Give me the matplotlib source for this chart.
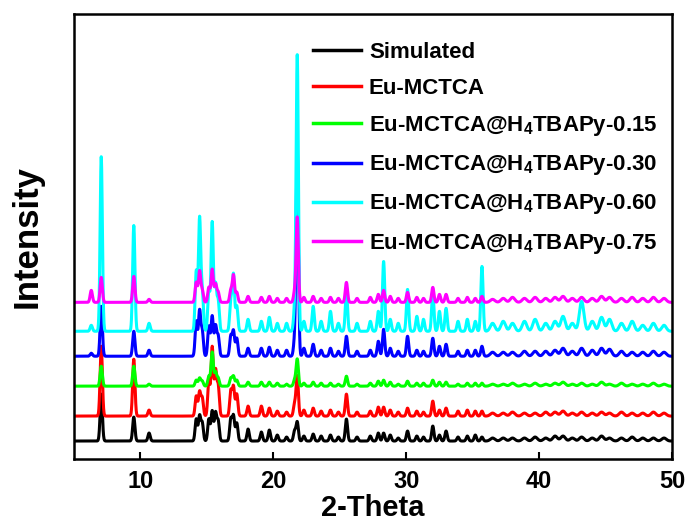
import numpy as np
import matplotlib
matplotlib.use('Agg')
import matplotlib.pyplot as plt

plt.rcParams['font.family'] = ['Liberation Sans', 'DejaVu Sans']
plt.rcParams['font.weight'] = 'bold'
plt.rcParams['mathtext.fontset'] = 'custom'
plt.rcParams['mathtext.bf'] = 'Liberation Sans:bold'
plt.rcParams['mathtext.rm'] = 'Liberation Sans:bold'

# peak positions (2-theta) shared by all patterns
positions = [6.3, 7.05, 9.5, 10.65, 14.2, 14.45, 14.65, 15.15, 15.4, 15.65, 15.85,
             16.8, 17.0, 17.25, 18.1, 19.1, 19.7, 20.3, 21.0, 21.6, 21.8, 22.3,
             23.0, 23.6, 24.3, 24.9, 25.5, 26.3, 27.3, 27.9, 28.3, 28.8, 29.4,
             30.1, 30.8, 31.3, 32.0, 32.5, 33.0, 33.9, 34.6, 35.2, 35.7, 36.5,
             37.3, 38.0, 38.9, 39.7, 40.5, 41.2, 41.8, 42.5, 43.2, 44.0, 44.7,
             45.3, 46.2, 47.0, 47.8, 48.6, 49.4]

# peak heights above baseline (arbitrary units) for each pattern
simulated = [0, 47, 24, 8, 22, 25, 18, 22, 30, 28, 20,
             22, 25, 18, 12, 9, 11, 6, 4, 10, 19, 5,
             7, 5, 6, 4, 22, 4, 5, 8, 8, 6, 3,
             10, 5, 4, 15, 6, 10, 4, 5, 6, 4, 3,
             3, 3, 3, 4, 3, 5, 5, 3, 4, 3, 5,
             3, 3, 4, 3, 3, 3]
eu_mctca = [0, 70, 57, 6, 20, 24, 18, 35, 69, 45, 30,
            25, 29, 22, 10, 10, 8, 5, 4, 12, 40, 6,
            8, 5, 6, 4, 22, 4, 5, 9, 9, 6, 4,
            8, 5, 4, 15, 6, 8, 5, 6, 5, 5, 3,
            3, 4, 3, 3, 4, 4, 5, 3, 4, 3, 4,
            3, 4, 3, 3, 4, 3]
tbapy_015 = [0, 20, 20, 2, 6, 8, 5, 10, 34, 14, 8,
             8, 10, 6, 4, 4, 4, 3, 2, 6, 27, 3,
             4, 3, 3, 2, 10, 2, 3, 5, 6, 4, 2,
             5, 3, 3, 6, 4, 4, 2, 3, 3, 3, 2,
             2, 3, 2, 3, 2, 3, 4, 2, 3, 2, 4,
             2, 3, 2, 2, 3, 2]
tbapy_030 = [3, 50, 25, 6, 35, 45, 25, 30, 40, 30, 20,
             20, 25, 18, 8, 8, 9, 6, 6, 15, 207, 8,
             12, 6, 8, 5, 20, 5, 6, 15, 27, 8, 5,
             20, 6, 5, 18, 10, 12, 5, 6, 6, 10, 4,
             4, 4, 5, 5, 5, 6, 8, 5, 8, 6, 8,
             7, 5, 4, 4, 5, 4]
tbapy_060 = [6, 175, 106, 8, 60, 112, 40, 40, 109, 46, 30,
             30, 56, 25, 12, 10, 14, 8, 8, 20, 276, 10,
             25, 10, 20, 8, 40, 8, 10, 20, 70, 12, 8,
             42, 15, 12, 40, 20, 23, 10, 12, 10, 65, 8,
             10, 8, 10, 12, 8, 10, 15, 8, 30, 10, 14,
             12, 8, 10, 6, 8, 6]
tbapy_075 = [12, 25, 26, 3, 20, 31, 12, 15, 33, 18, 10,
             12, 27, 10, 6, 5, 6, 4, 4, 10, 85, 5,
             6, 4, 5, 4, 20, 4, 5, 8, 12, 6, 4,
             10, 5, 4, 15, 8, 8, 4, 5, 4, 6, 3,
             4, 5, 4, 5, 4, 5, 6, 4, 5, 4, 6,
             5, 4, 5, 4, 5, 4]

# vertical offsets of each pattern
offsets = [18, 43, 73, 103, 128, 157]

labels = ['Simulated', 'Eu-MCTCA',
          r'Eu-MCTCA@H$_\mathbf{4}$TBAPy-0.15',
          r'Eu-MCTCA@H$_\mathbf{4}$TBAPy-0.30',
          r'Eu-MCTCA@H$_\mathbf{4}$TBAPy-0.60',
          r'Eu-MCTCA@H$_\mathbf{4}$TBAPy-0.75']
colors = ['black', '#ff0000', '#00ff00', '#0000ff', '#00ffff', '#ff00ff']

series = [simulated, eu_mctca, tbapy_015, tbapy_030, tbapy_060, tbapy_075]

two_theta = np.linspace(5, 50, 4000)
pos = np.array(positions)


def pattern(heights, base):
    h = np.array(heights, dtype=float)
    sig = np.where(pos < 36, 0.085, 0.17)
    prof = (h[:, None] * np.exp(-0.5 * ((two_theta[None, :] - pos[:, None]) / sig[:, None]) ** 2)).sum(axis=0)
    return base + prof


fig = plt.figure(figsize=(6.89, 5.26), dpi=100)
ax = fig.add_axes([0.1074, 0.1274, 0.8679, 0.846])

for heights, base, col, lab in zip(series, offsets, colors, labels):
    ax.plot(two_theta, pattern(heights, base), color=col, lw=2.2, label=lab)

ax.set_xlim(5, 50)
ax.set_ylim(0, 446)
ax.set_xticks([10, 20, 30, 40, 50])
ax.set_yticks([])
ax.tick_params(axis='x', direction='in', length=5, width=1.5, pad=8, labelsize=17)
for sp in ax.spines.values():
    sp.set_linewidth(1.8)

ax.set_xlabel('2-Theta', fontsize=21, fontweight='bold', labelpad=1)
ax.set_ylabel('Intensity', fontsize=25, fontweight='bold', labelpad=22)

leg = ax.legend(loc='upper left', bbox_to_anchor=(0.40, 0.937), frameon=False,
                fontsize=16, handlelength=2.15, handletextpad=0.36,
                labelspacing=0.68, borderpad=0, borderaxespad=0)
for line in leg.get_lines():
    line.set_linewidth(2.5)

fig.savefig('out.png', dpi=100)
